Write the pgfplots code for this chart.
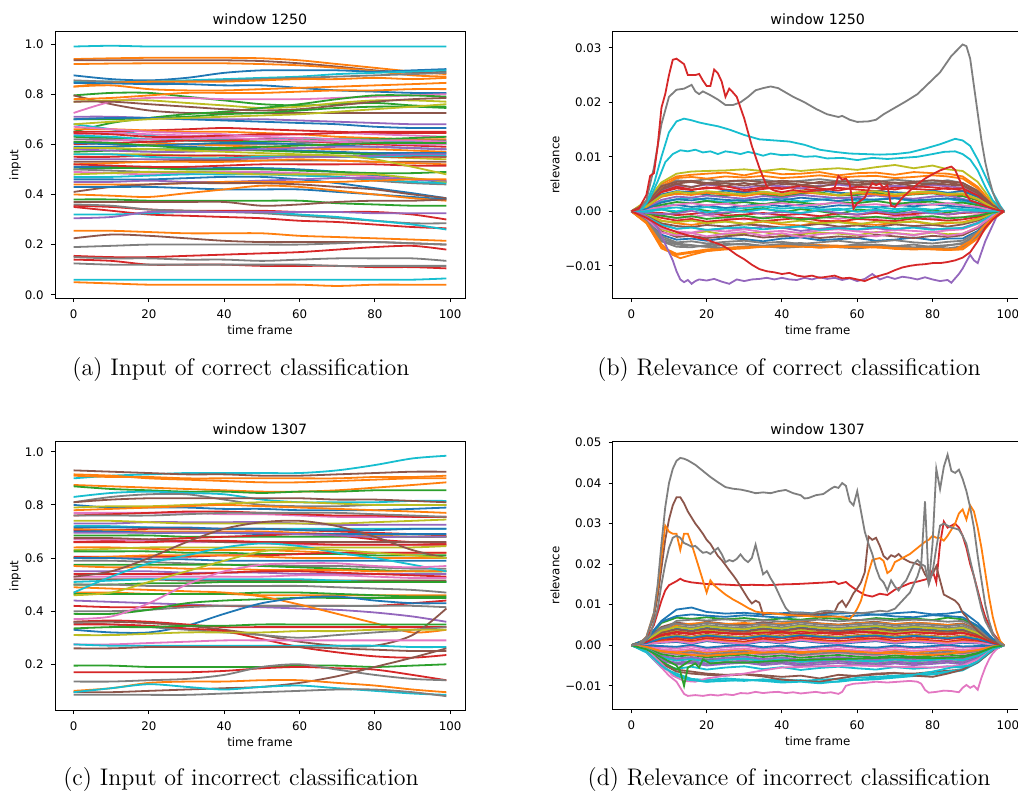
\documentclass[border=0pt]{standalone}
\usepackage{pgfplots}
\usepackage{pgfplotstable}
\pgfplotsset{compat=1.18}
\usepackage{fontspec}
\newfontfamily\dejavu{DejaVu Sans}

% matplotlib tab10
\definecolor{C0}{HTML}{1F77B4}
\definecolor{C1}{HTML}{FF7F0E}
\definecolor{C2}{HTML}{2CA02C}
\definecolor{C3}{HTML}{D62728}
\definecolor{C4}{HTML}{9467BD}
\definecolor{C5}{HTML}{8C564B}
\definecolor{C6}{HTML}{E377C2}
\definecolor{C7}{HTML}{7F7F7F}
\definecolor{C8}{HTML}{BCBD22}
\definecolor{C9}{HTML}{17BECF}

% one row per line: colour index (column -1), then y at each time frame
% inputs in units of 0.01
\pgfplotstableread[header=has colnames]{
-1 0 10 20 30 40 50 60 70 80 90 99
9 99 99.3 99 99 99 99 99 99 99 99 99
1 94 94.3 94.5 94.5 94.5 94.3 93.5 92 90.5 89 88
5 93.5 93.5 93.5 93.5 93.5 93.2 92.3 91 89.5 88.5 89
1 92 92.2 92.3 92.3 92.3 92 91.5 90.5 89.2 87.5 87
0 87.5 86 85.5 86.5 88.5 89.5 89.5 89.5 89 89.5 90
9 85 85 85 85.5 86 86.5 87 88 88.5 89 89.5
7 85.5 85 84.8 85 85.5 86 86.5 87 87.5 88 88.5
1 83 84.5 85 85 85 85.5 86 86 86.5 86 86.5
0 84.5 84.3 84 84 83.5 83.5 82.5 81.5 81 80.5 80.5
1 83 83.5 82 81.5 81.5 82 82.5 83 83.5 84 84.5
2 79.5 80.5 80.5 79 77.5 76 75.5 76 76.5 75.5 75
5 79.5 76 73.5 72.5 72.5 72.5 72.5 72.5 72.5 72.5 72.5
1 78 78.5 79.5 80.5 80.5 80.5 81 81.5 81.5 82 82
6 72.5 77 78.5 78.5 78 78 78 78.5 79 79.5 80
8 77 77.5 77.5 76.5 75.5 74.5 75 76.5 77.5 77.5 77
2 65 68.5 70.5 72 73 74.5 76 78 79.5 79.5 79
9 68 66 63.5 62.5 62 62 61.5 61 60.5 60 60
5 77 77 76 75 74 73.5 74 75.5 77 78 78.5
2 70 70 70.5 71 72 72.5 73.5 74.5 75 75 74.5
4 71 71 70.5 70 70 70 69.5 69 68.5 68 68
0 70 70.5 70.5 70 69.5 69 68.5 68 67 66.5 66.5
8 68 69 70 70.5 71 71.5 72 73 74 75 76
3 65 65 65.5 66 66.5 66 65.5 65 64.5 64.5 64.5
6 64 64.5 64 63.5 63 63.5 64 64.5 64 63.5 63
1 66 66 65.5 65 65 64.5 64 63 62.5 62 62
2 63 62.5 62 61.5 61 61 61.5 62 62 62.5 63
9 63.5 63 62 61.5 61.5 62 62.5 62 61.5 61 61
7 62 62 61 60 60 60 60.5 61 61.5 61.5 61.5
3 60 60.5 61 61.5 61.5 62 61.5 60.5 60 59.5 59
6 61 61.5 62 62.5 62.5 62 61.5 61 60.5 60 60
1 58 59 60 60 59.5 59 58.5 58 58 57.5 57
0 59 59 59.5 59 58.5 58 57.5 57 56.5 56.5 56.5
2 57 57.5 58 58 58 57.5 57 56.5 56 55.5 55
8 56 56 56 55.5 55.5 55.5 55.5 55.5 55 54.5 54
3 55 55 55.5 55.5 55.5 55 55 55 55 55 55
9 56 56 55 54.5 54.5 55 55 55 55 55.5 55.5
4 54 54 54 54 54 54.5 55 55 55.5 56 56
5 53 53 53 53.5 53.5 53.5 53.5 53.5 53 53 53
1 52 52.5 53 53 53 53.5 54 53.5 53 52.5 52
0 51 51 51 50.5 50.5 50.5 50 49 47.5 46 45
2 50 50.5 50.5 50 50 50 49.5 49 48.5 48.5 49
7 50 49.5 49 49 49 48.5 48 47 45.5 44.5 44
3 52 51.5 51 51 51.5 52 52 52 52 51.5 51.5
6 49 48.5 48 48.5 49 49 48.5 48 47 46 45.5
9 47 47 47.5 48 48 48 47.5 47 46 45 44.5
8 48 48.5 49 49 48.5 48 48 48 48 46.5 45
0 46 46 46 46.5 47 47 46 44.5 42.5 40.5 38.5
4 45 45 45.5 45 45 45.5 46 46.5 46.5 46 45.5
1 44 44 44 44.5 45 45 45 45 45.5 46 46
5 41 43 44 44.5 44.5 44.5 44 43 42 40 38.5
0 43 43 43 42.5 42 42 42 41 40 39 38
1 40 39.5 39 40.5 42 43.5 43 41.5 40 38.5 37.5
2 38 38 37.5 37.5 37.5 37.5 37.5 36.5 36 35.5 35.5
5 37 37 37 37 37 35.5 36 37 37.5 37.5 38
3 35.5 35 34 33.5 33.5 33.5 33 33 33 32 30
3 35 33.5 32 31.5 31 30.5 29.5 29 28 27 26.5
7 36 35.5 34 33.5 33 32.5 31.5 30.5 29.5 28.5 28.5
9 32 32 32.5 33 33 33 32 31 29.5 28 26
4 30.5 31 33 33 33 33 33 33 32.5 32.5 32.5
1 25.5 25.5 25 24.5 24.5 24.5 23.5 23 22.5 22 21.5
5 22.5 24 23.5 22.5 21.5 21 21 21 21 20.5 20
7 19 19.5 20 20 20 20 20 20.5 21 20.5 20
3 15.5 15 15 15.5 16 16.5 17 18 19 19.5 18
7 15 14.5 14.5 14 14 13.5 14 14.5 14.5 14.5 13.5
3 14 13.5 12 12 12 11.5 11.5 11.5 11 11 10.5
7 12.5 12 12 12 12 12 12 11.5 11.5 11.5 11.5
9 6 6 6 6 6 6 6 6 6 6 6.5
1 5 4.5 4 4 4 4 4 3.5 4 4 4
3 64.5 64 63 63 63.5 64 64 64.5 65 65 65
6 67 66 65 64.5 64 63 62.5 62 61.5 61.5 61
0 60.5 60 59.5 60 60.5 60.5 60 59.5 59 58.5 58
4 58 57.5 57 57 57.5 58 58.5 59 59 58.5 58
2 61 60.5 59.5 58.5 58.5 59 59.5 60 60.5 60.5 60.5
8 58.5 58.5 58 57.5 57 56.5 56 55.5 54 51 48
}\rawA

\pgfplotstableread[header=has colnames]{
-1 0 10 20 30 40 50 60 70 80 90 99
9 90 91 91.5 92 92 92 92 93 95 97.5 98.5
5 93 92.5 92 91.5 91.5 91 91 91.5 92 92.5 92.5
1 91.5 91 90 89.5 89 88.5 88.5 89 89.5 90 90
1 91 90.5 90.5 90 90 90 90 90 90.5 90.5 91
1 87.5 87 86.5 86 85.5 85 85 85.5 86.5 87.5 88.5
2 87 86 85.5 85 85 84.5 85 85 85.5 85.5 85.5
9 83 84.5 85 84.5 84 82 81 81 81 81.5 81.5
7 81 83 84 84 82 80 79.5 79.5 80 80 80
5 81 82 82.5 82.5 82.5 82.5 82.5 82 82 81.5 81
0 80 79 79 79 78.5 78.5 78 78 78 78.5 79
8 79 79.5 79.5 80 80.5 81 81 80.5 80 80 80
1 78 78.5 79 79.5 80 79.5 79 78.5 78 77.5 77
6 77 77 77 77 76.5 76.5 76 75.5 75.5 75.5 75.5
3 76 76.5 77 77.5 77.5 77 76.5 76 76 75.5 75.5
7 76 76 76 76.5 77 77 77 77 76.5 76 75.5
4 73 73 73.5 73.5 73.5 73.5 73 72.5 72.5 72.5 72.5
8 74 74 73.5 73 73 73 73 73 73.5 74 74.5
9 72 72 71.5 71 71 71 71 71 71 71 71
3 70.5 70.5 71 71 71 71 70.5 70 69.5 69 68.5
1 71 70.5 70 70 70 70 69.5 69 68.5 68 68
0 70 70 69.5 69.5 69.5 69 69 69 69 69 69
2 68.5 68.5 68.5 68 68 68 68 68 68 68 68
3 66 66.5 67 67.5 68 68.5 69 68.5 67 66 65.5
6 67 67 66.5 66 66 65.5 65 65 65 65 65
4 69.5 69.5 69.5 69.5 69.5 69.5 69 68.5 68 68 68
0 71.5 71.5 71.5 71.5 71 71 70.5 70.5 70.5 71 71
5 67.5 67.5 67 66.5 66 66 66 66 66 66 66
3 66 66 66 66.5 66.5 66 65.5 65 65 65 65
1 64 64 63.5 63 63 63 62.5 62 62 62 62
8 63 63.5 64 64 64 64 64 64 64 64 64.5
2 62.5 62.5 62.5 62 62 61.5 61.5 61.5 61 61 61
3 60.5 60.5 60.5 60.5 61 61 61.5 62 62 62 62
1 60 60.5 61 61 61 60.5 60 60 60 60 60
0 60 60 59.5 59.5 59 59 59 59 59 59 59
7 59 59 58.5 58 57.5 57.5 57 57 56.5 56 56
2 57.5 57.5 57.5 57.5 57.5 57 56.5 56 55.5 55 55
1 57 56.5 56.5 56 56 55.5 55.5 55.5 55 55 55
4 55 55 55 54.5 54.5 54.5 54 54 54 54 54
3 54 54 54 54 54.5 55 55 54.5 54 53.5 53
6 53 53 53 53 53 53 53.5 53.5 53 52.5 52.5
5 52 52 52 51.5 51.5 51.5 51.5 51.5 51.5 51.5 51.5
9 51 51.5 52 52 52 52 52 51.5 51 51 51
2 50 50 50.5 50.5 51 51 51 51 51 51 51
7 50 50 49.5 49.5 49.5 49.5 49.5 49 48.5 48 47
1 47 47 46.5 46.5 46.5 46 46 46 46 46 46
2 46.5 46.5 46.5 46.5 46.5 47 47 46.5 46 45.5 45.5
4 44 43.5 43 42.5 42 41.5 41 40.5 39.5 38 36
3 42 41.5 41.5 42 42 42 42 42 42 43 44
7 40 40 40.5 41.5 42 42 42 42 42 42 41.5
2 39 39 40.5 43 44 44.5 45 45 45 45 45
1 49 48.5 48 47.5 47 45.5 42.5 39 35.5 32 33
0 33 32 32 34.5 39 43 45 45.5 44 43 43
3 36 36.5 36 35 34 34 34 34 34 34 34
5 36 36 35.5 34.5 33 31 28.5 27 27 31 41
7 35.5 35 34 33 32 31 30 31 32 33 34
3 35 35 34.5 33.5 32.5 29.5 26.5 24.5 23 22.5 23.5
2 33.5 34 34 34.5 34.5 35 35 35 35 35 35
8 31 31 31.5 32 32 32 32.5 32.5 33 33 33
6 27.5 27.5 28 28.5 29 29 29 29 29 29 29
9 27.5 27 27 27 27 27 27 27 27 26.5 26.5
5 26 26 26.5 26.5 26.5 26.5 26.5 26 25.5 25 25
2 19.5 19.5 19 19 19 19 19.5 19.5 19 19.5 20
3 17 17 17 17 17.5 18.5 19 18.5 18 16 14
7 13.5 13.5 14 14.5 16 19 20 18 16 14.5 14
5 9.5 9.5 10 10.5 11 11.5 13 15.5 19 22.5 26
1 10 11 13 13.5 13.5 14 14 13 12 10.5 9.5
9 9.5 11 12.5 11.5 10.5 11.5 12 11 10 9 8.5
7 8.5 8.5 8.5 8.5 9 9.5 10 10.5 10.5 9.5 8
5 53 55 60 66 71 73.5 74 72 68 63 60
9 47 53 58 61 64 65.5 64.5 62 60 57.5 55
8 46 47 51 55 59 62.5 63.5 63 62 61 60
6 37 38 43 50 55 57.5 58 58 57 56.5 57
}\rawC

% relevance band, units of 0.001
\pgfplotstableread[header=has colnames]{
-1 0 4 8 12 16 20 25 30 35 40 45 50 55 60 65 70 75 80 84 88 92 96 99
0 0 0.3 0.9 1.2 0.8 1.1 0.6 1.0 1.4 0.9 1.2 0.7 1.1 1.0 0.6 1.2 0.9 1.3 1.0 0.8 0.6 0.2 0
1 0 -0.6 -1.7 -2.2 -2.5 -2.1 -1.8 -2.3 -1.9 -2.4 -2.6 -2.0 -1.7 -2.2 -2.5 -2.1 -1.9 -2.4 -2.2 -2.0 -1.3 -0.4 0
2 0 1.0 2.7 3.3 3.6 3.0 2.8 3.4 3.1 2.7 3.2 3.5 2.9 3.0 3.4 2.8 3.1 3.3 2.9 2.8 2.0 0.6 0
3 0 1.3 3.5 4.2 3.9 4.4 4.0 3.6 4.1 4.5 4.2 3.8 4.3 4.0 3.7 4.4 4.1 3.9 4.3 3.8 2.7 0.8 0
4 0 -0.8 -2.4 -3.2 -2.9 -3.5 -3.1 -3.3 -2.8 -3.0 -3.6 -3.2 -2.9 -3.4 -3.1 -3.5 -2.8 -3.2 -3.3 -3.0 -2.1 -0.6 0
5 0 1.6 4.3 5.1 5.4 4.9 5.2 4.7 5.3 5.0 4.8 5.4 5.1 4.9 5.3 4.7 5.2 5.0 5.3 4.8 3.4 1.0 0
6 0 -0.2 -0.8 -1.3 -1.0 -0.7 -1.2 -1.5 -1.1 -0.8 -1.3 -1.0 -1.4 -0.9 -1.2 -1.0 -0.7 -1.3 -1.1 -1.1 -0.6 -0.2 0
7 0 -2.0 -5.4 -6.1 -6.3 -6.5 -6.2 -5.9 -6.4 -6.1 -5.8 -6.3 -6.5 -6.0 -6.2 -6.4 -6.1 -6.6 -6.3 -5.8 -4.1 -1.2 0
8 0 -1.1 -3.3 -4.2 -4.0 -3.7 -4.3 -4.1 -3.8 -4.4 -4.2 -3.9 -4.1 -4.4 -3.8 -4.0 -4.3 -3.9 -4.2 -4.1 -2.9 -0.8 0
9 0 0.7 1.8 2.2 2.5 2.0 1.7 2.3 2.0 2.4 1.8 2.1 2.5 1.9 2.2 2.4 1.8 2.1 2.3 1.8 1.3 0.4 0
0 0 -1.6 -4.3 -5.2 -5.0 -5.4 -4.9 -5.1 -5.5 -5.0 -4.8 -5.3 -5.1 -4.9 -5.4 -5.2 -4.8 -5.3 -5.0 -5.0 -3.6 -1.0 0
1 0 1.6 5.0 6.4 6.7 6.9 7.1 6.6 7.3 6.8 6.9 7.2 6.6 7.0 7.1 6.7 7.2 7.0 6.9 6.4 4.5 1.3 0
2 0 0.1 0.4 -0.3 0.5 0.1 -0.4 0.2 0.6 -0.2 0.4 0.0 -0.5 0.3 0.1 -0.3 0.4 0.2 -0.2 0.3 0.2 0.0 0
3 0 -0.5 -1.2 -1.7 -1.4 -1.9 -1.6 -1.3 -1.8 -1.5 -1.2 -1.7 -1.9 -1.4 -1.6 -1.8 -1.3 -1.5 -1.7 -1.5 -1.0 -0.3 0
4 0 0.7 2.1 2.7 2.5 2.9 2.6 2.3 2.8 2.5 3.0 2.7 2.4 2.6 2.9 2.5 2.3 2.7 2.9 2.3 1.6 0.5 0
5 0 -0.8 -2.2 -2.7 -2.9 -2.5 -2.8 -2.4 -2.6 -3.0 -2.7 -2.3 -2.8 -2.6 -2.9 -2.4 -2.7 -2.5 -2.8 -2.4 -1.7 -0.5 0
6 0 -1.1 -3.1 -3.7 -3.9 -3.4 -3.7 -3.3 -3.8 -3.6 -4.0 -3.5 -3.3 -3.7 -3.9 -3.4 -3.6 -3.8 -3.5 -3.3 -2.3 -0.7 0
7 0 1.7 4.7 5.7 5.5 5.9 5.4 5.6 5.8 5.3 5.6 5.9 5.5 5.7 5.4 5.8 5.5 5.3 5.7 5.2 3.8 1.1 0
8 0 1.9 5.3 6.9 7.3 7.4 7.5 7.7 7.4 7.8 7.4 7.7 7.9 7.6 8.1 8.5 7.9 8.4 7.7 7.4 5.4 1.6 0
9 0 0.2 0.5 0.7 0.4 0.8 0.3 0.6 0.9 0.5 0.7 0.4 0.2 0.7 0.8 0.4 0.6 0.3 0.7 0.4 0.3 0.1 0
0 0 1.1 3.1 3.7 3.5 3.2 3.8 3.4 3.6 3.1 3.5 3.9 3.4 3.2 3.7 3.5 3.3 3.8 3.4 3.7 2.6 0.7 0
1 0 -2.2 -6.5 -7.8 -7.4 -7.0 -6.7 -6.5 -6.4 -6.6 -6.3 -6.7 -6.4 -6.8 -6.5 -6.9 -7.0 -6.9 -7.1 -6.7 -4.7 -1.4 0
2 0 0.5 1.2 1.7 1.5 1.9 1.4 1.7 1.3 1.8 1.6 1.2 1.7 1.5 1.9 1.4 1.6 1.8 1.4 1.6 1.1 0.3 0
3 0 -0.2 -0.3 -0.7 -0.5 -0.2 -0.8 -0.6 -0.3 -0.7 -0.5 -0.9 -0.4 -0.6 -0.3 -0.7 -0.5 -0.2 -0.6 -0.3 -0.2 -0.1 0
4 0 1.4 3.9 4.7 4.5 4.9 4.6 4.3 4.8 4.6 4.2 4.7 4.9 4.5 4.3 4.7 4.4 4.8 4.6 4.3 3.0 0.9 0
5 0 -1.4 -3.7 -4.7 -4.5 -4.9 -4.6 -4.3 -4.8 -4.6 -4.4 -4.9 -4.6 -4.8 -4.3 -4.6 -4.9 -4.5 -4.7 -4.4 -3.1 -0.9 0
6 0 0.4 0.8 1.2 1.5 1.1 1.4 0.9 1.2 1.5 1.0 1.3 1.6 1.1 1.3 0.9 1.4 1.2 1.5 1.1 0.8 0.2 0
7 0 -1.7 -4.6 -5.7 -5.5 -5.9 -5.6 -5.4 -5.8 -5.6 -6.0 -5.7 -5.4 -5.8 -5.6 -5.3 -5.7 -5.9 -5.6 -5.4 -3.8 -1.1 0
8 0 -0.5 -1.8 -2.0 -1.7 -2.2 -1.9 -2.3 -1.8 -2.1 -1.7 -2.2 -2.0 -2.4 -1.9 -2.1 -1.8 -2.3 -2.0 -2.1 -1.5 -0.4 0
9 0 -1.0 -2.5 -3.2 -3.0 -3.4 -3.1 -2.9 -3.3 -3.0 -2.8 -3.4 -3.1 -3.3 -2.9 -3.2 -3.0 -3.4 -3.1 -3.1 -2.2 -0.6 0
0 0 0.5 1.6 2.2 2.0 2.4 2.1 1.9 2.3 2.0 2.5 2.2 1.9 2.3 2.1 2.4 2.0 2.2 2.4 2.1 1.5 0.4 0
1 0 0.8 2.7 3.2 3.0 3.4 3.1 2.8 3.3 3.0 3.5 3.2 2.9 3.3 3.1 2.8 3.2 3.4 3.0 3.1 2.2 0.6 0
2 0 -0.4 -0.8 -1.2 -0.9 -1.4 -1.1 -0.8 -1.3 -1.0 -1.5 -1.2 -0.9 -1.3 -1.0 -1.4 -1.1 -0.9 -1.3 -1.1 -0.8 -0.2 0
3 0 1.2 3.6 4.5 4.0 4.2 4.6 3.9 4.4 4.1 4.7 4.2 3.8 4.5 4.3 4.0 4.6 4.4 4.1 4.2 2.9 0.8 0
4 0 -0.3 -0.5 -0.4 0.1 -0.6 -0.2 0.0 -0.5 -0.1 -0.4 0.2 -0.3 -0.6 0.0 -0.5 -0.1 -0.4 -0.6 -0.2 -0.1 0.0 0
5 0 1.3 4.0 5.0 4.4 5.1 4.7 5.2 4.6 5.3 4.9 4.5 5.2 4.8 5.0 5.3 4.6 5.1 4.9 4.7 3.3 0.9 0
6 0 -1.3 -3.9 -4.4 -4.0 -4.6 -4.1 -3.8 -4.5 -4.0 -4.7 -4.2 -3.9 -4.3 -4.6 -4.0 -4.4 -3.8 -4.5 -4.1 -2.9 -0.8 0
7 0 -1.8 -5.0 -5.9 -6.2 -6.5 -6.8 -6.6 -6.4 -6.7 -6.5 -6.2 -6.6 -6.8 -6.4 -6.7 -6.9 -6.6 -6.8 -6.4 -4.5 -1.3 0
8 0 0.9 2.9 3.6 3.3 3.7 3.4 3.1 3.6 3.2 3.8 3.3 3.0 3.5 3.7 3.1 3.5 3.6 3.2 3.3 2.3 0.7 0
9 0 -0.1 0.3 0.0 0.5 -0.2 0.3 -0.1 0.4 0.1 -0.3 0.2 0.5 -0.1 0.3 0.0 0.4 -0.2 0.1 0.2 0.1 0.0 0
1 0 -2.1 -6.8 -8.0 -7.6 -7.3 -7.0 -6.8 -6.5 -6.4 -6.3 -6.2 -6.3 -6.4 -6.5 -6.6 -6.8 -7.0 -7.1 -7.0 -5.0 -1.5 0
1 0 1.5 4.5 6.1 6.3 6.0 6.4 6.2 6.5 6.1 6.3 6.6 6.2 6.4 6.5 6.1 6.3 6.6 6.4 6.0 4.2 1.2 0
7 0 -1.9 -5.5 -6.5 -6.6 -6.2 -6.0 -6.1 -6.3 -6.0 -6.2 -6.4 -6.5 -6.3 -6.1 -6.4 -6.6 -6.4 -6.2 -6.0 -4.2 -1.2 0
5 0 1.4 4.6 5.4 5.6 5.2 5.5 5.7 5.3 5.6 5.4 5.1 5.5 5.3 5.6 5.2 5.4 5.7 5.5 5.2 3.7 1.1 0
}\rawB

\pgfplotstableread[header=has colnames]{
-1 0 4 8 12 16 20 25 30 35 40 45 50 55 60 65 70 75 80 84 88 92 96 99
0 0 1.5 6.0 8.8 9.3 8.2 7.8 8.0 7.6 7.9 8.1 7.7 7.8 8.0 7.5 7.9 8.2 7.6 7.8 8.3 5.5 1.6 0
1 0 0.5 1.4 1.8 1.5 2.1 1.6 1.9 1.4 2.0 1.7 1.5 2.1 1.8 1.6 2.0 1.4 1.9 1.7 1.6 1.1 0.3 0
2 0 1.4 5.5 6.8 6.5 6.9 6.4 6.7 6.2 6.6 6.3 6.8 6.5 6.1 6.7 6.4 6.6 6.2 6.8 6.4 4.5 1.3 0
3 0 0.8 2.4 3.1 2.7 3.3 2.9 2.6 3.2 2.8 3.4 3.0 2.7 3.1 3.3 2.8 3.2 2.9 2.6 3.0 2.1 0.6 0
4 0 -0.9 -2.6 -3.3 -2.9 -3.5 -3.1 -2.8 -3.4 -3.0 -3.6 -3.2 -2.9 -3.3 -3.5 -3.0 -3.4 -3.1 -2.8 -3.2 -2.2 -0.6 0
5 0 -1.3 -4.5 -6.0 -6.5 -7.0 -7.3 -7.1 -7.4 -7.8 -7.5 -8.2 -7.3 -7.6 -7.2 -6.9 -7.0 -6.6 -6.3 -6.0 -4.2 -1.2 0
6 0 -0.6 -1.8 -2.3 -1.9 -2.5 -2.1 -1.8 -2.4 -2.0 -2.6 -2.2 -1.9 -2.3 -2.5 -2.0 -2.4 -2.1 -1.8 -2.2 -1.5 -0.4 0
7 0 1.2 3.9 4.8 4.3 5.0 4.5 4.2 4.9 4.4 5.1 4.6 4.3 4.7 5.0 4.4 4.8 4.5 4.2 4.6 3.2 0.9 0
8 0 0.3 0.9 1.2 0.7 1.4 0.9 0.6 1.3 0.8 1.5 1.0 0.7 1.1 1.4 0.8 1.2 0.9 0.6 1.0 0.7 0.2 0
9 0 -1.5 -5.0 -7.5 -8.5 -9.0 -8.6 -8.8 -8.4 -8.9 -8.6 -9.1 -9.0 -8.5 -8.2 -7.8 -7.5 -7.0 -6.5 -6.0 -4.2 -1.2 0
0 0 1.0 3.2 4.1 3.6 4.3 3.8 3.5 4.2 3.7 4.4 3.9 3.6 4.0 4.3 3.7 4.1 3.8 3.5 3.9 2.7 0.8 0
1 0 -0.4 -1.3 -1.7 -1.3 -1.9 -1.5 -1.2 -1.8 -1.4 -2.0 -1.6 -1.3 -1.7 -1.9 -1.4 -1.8 -1.5 -1.2 -1.6 -1.1 -0.3 0
2 0 -0.5 -3.8 -4.5 -4.2 -4.6 -4.3 -4.0 -4.5 -4.1 -4.7 -4.2 -3.9 -4.4 -4.6 -4.1 -4.5 -4.2 -3.9 -4.3 -3.0 -0.9 0
3 0 0.7 2.0 2.6 2.1 2.8 2.3 2.0 2.7 2.2 2.9 2.4 2.1 2.5 2.8 2.2 2.6 2.3 2.0 2.4 1.7 0.5 0
4 0 -1.1 -3.5 -4.3 -3.9 -4.5 -4.1 -3.8 -4.4 -4.0 -4.6 -4.2 -3.9 -4.3 -4.5 -4.0 -4.4 -4.1 -3.8 -4.2 -2.9 -0.8 0
5 0 1.4 4.5 5.6 5.1 5.8 5.3 5.0 5.7 5.2 5.9 5.4 5.1 5.5 5.8 5.2 5.6 5.3 5.0 5.4 3.8 1.1 0
6 0 -0.2 -0.5 -0.8 -0.3 -1.0 -0.5 -0.2 -0.9 -0.4 -1.1 -0.6 -0.3 -0.7 -1.0 -0.4 -0.8 -0.5 -0.2 -0.6 -0.4 -0.1 0
7 0 1.1 3.4 6.0 6.3 6.1 6.4 6.0 6.2 5.8 6.1 6.3 5.9 6.2 6.4 6.0 6.3 6.1 5.8 6.0 4.2 1.2 0
8 0 0.9 2.8 3.5 3.0 3.7 3.2 2.9 3.6 3.1 3.8 3.3 3.0 3.4 3.7 3.1 3.5 3.2 2.9 3.3 2.3 0.7 0
9 0 -1.4 -4.6 -5.8 -5.3 -6.0 -5.5 -5.2 -5.9 -5.4 -6.1 -5.6 -5.3 -5.7 -6.0 -5.4 -5.8 -5.5 -5.2 -5.6 -3.9 -1.1 0
0 0 0.2 0.6 0.8 0.3 1.0 0.5 0.2 0.9 0.4 1.1 0.6 0.3 0.7 1.0 0.4 0.8 0.5 0.2 0.6 0.4 0.1 0
1 0 0.9 2.9 5.0 5.3 5.6 5.2 5.5 5.1 5.4 5.7 5.3 5.0 5.4 5.6 5.2 5.5 5.3 5.0 5.2 3.6 1.0 0
2 0 -0.7 -2.2 -2.8 -2.4 -3.0 -2.6 -2.3 -2.9 -2.5 -3.1 -2.7 -2.4 -2.8 -3.0 -2.5 -2.9 -2.6 -2.3 -2.7 -1.9 -0.5 0
3 0 0.4 1.1 1.5 1.0 1.7 1.2 0.9 1.6 1.1 1.8 1.3 1.0 1.4 1.7 1.1 1.5 1.2 0.9 1.3 0.9 0.3 0
4 0 -1.2 -3.8 -4.8 -4.4 -5.0 -4.6 -4.3 -4.9 -4.5 -5.1 -4.7 -4.4 -4.8 -5.0 -4.5 -4.9 -4.6 -4.3 -4.7 -3.3 -0.9 0
5 0 1.0 3.1 3.9 3.4 4.1 3.6 3.3 4.0 3.5 4.2 3.7 3.4 3.8 4.1 3.5 3.9 3.6 3.3 3.7 2.6 0.7 0
6 0 -0.3 -1.0 -1.3 -0.9 -1.5 -1.1 -0.8 -1.4 -1.0 -1.6 -1.2 -0.9 -1.3 -1.5 -1.0 -1.4 -1.1 -0.8 -1.2 -0.8 -0.2 0
7 0 1.3 4.2 5.3 4.8 5.5 5.0 4.7 5.4 4.9 5.6 5.1 4.8 5.2 5.5 4.9 5.3 5.0 4.7 5.1 3.6 1.0 0
8 0 0.6 1.9 2.4 2.0 2.6 2.2 1.9 2.5 2.1 2.7 2.3 2.0 2.4 2.6 2.1 2.5 2.2 1.9 2.3 1.6 0.5 0
9 0 -1.8 -5.5 -7.0 -8.3 -8.6 -8.2 -8.5 -8.7 -8.4 -8.8 -8.5 -8.3 -8.6 -8.4 -8.0 -7.6 -7.2 -6.8 -6.2 -4.3 -1.2 0
0 0 -0.1 -0.2 -0.4 0.1 -0.6 -0.2 0.1 -0.5 -0.1 -0.7 -0.3 0.0 -0.4 -0.6 -0.1 -0.5 -0.2 0.1 -0.3 -0.2 -0.1 0
1 0 0.3 0.9 1.1 0.7 1.3 0.9 0.6 1.2 0.8 1.4 1.0 0.7 1.1 1.3 0.8 1.2 0.9 0.6 1.0 0.7 0.2 0
2 0 -1.0 -4.0 -6.0 -3.5 -3.8 -3.6 -3.3 -3.9 -3.5 -4.1 -3.7 -3.4 -3.8 -4.0 -3.5 -3.9 -3.6 -3.3 -3.7 -2.6 -0.7 0
3 0 0.5 1.5 2.0 1.6 2.2 1.8 1.5 2.1 1.7 2.3 1.9 1.6 2.0 2.2 1.7 2.1 1.8 1.5 1.9 1.3 0.4 0
4 0 -0.8 -2.9 -3.7 -3.3 -3.9 -3.5 -3.2 -3.8 -3.4 -4.0 -3.6 -3.3 -3.7 -3.9 -3.4 -3.8 -3.5 -3.2 -3.6 -2.5 -0.7 0
5 0 -1.3 -4.5 -6.5 -7.0 -7.3 -7.5 -7.2 -7.7 -8.5 -8.8 -9.0 -8.2 -7.5 -7.0 -6.8 -7.5 -7.8 -7.0 -6.0 -4.2 -1.2 0
6 0 0.3 0.7 1.0 0.5 1.2 0.7 0.4 1.1 0.6 1.3 0.8 0.5 0.9 1.2 0.6 1.0 0.7 0.4 0.8 0.6 0.2 0
7 0 -0.5 -1.6 -2.1 -1.7 -2.3 -1.9 -1.6 -2.2 -1.8 -2.4 -2.0 -1.7 -2.1 -2.3 -1.8 -2.2 -1.9 -1.6 -2.0 -1.4 -0.4 0
8 0 1.1 3.6 4.5 4.0 4.7 4.2 3.9 4.6 4.1 4.8 4.3 4.0 4.4 4.7 4.1 4.5 4.2 3.9 4.3 3.0 0.9 0
9 0 -0.9 -3.0 -3.8 -3.4 -4.0 -3.6 -3.3 -3.9 -3.5 -4.1 -3.7 -3.4 -3.8 -4.0 -3.5 -3.9 -3.6 -3.3 -3.7 -2.6 -0.7 0
0 0 0.5 1.7 2.2 1.8 2.4 2.0 1.7 2.3 1.9 2.5 2.1 1.8 2.2 2.4 1.9 2.3 2.0 1.7 2.1 1.5 0.4 0
3 0 0.8 2.6 3.3 2.9 3.4 3.0 2.9 3.1 3.3 2.9 3.2 3.0 3.4 3.1 2.8 3.2 3.0 2.9 3.1 2.2 0.6 0
1 0 -0.4 -1.5 -1.9 -2.4 -2.6 -2.3 -2.0 -1.8 -1.6 -1.7 -1.5 -1.4 -1.6 -1.9 -2.0 -2.2 -2.4 -2.1 -1.7 -1.2 -0.3 0
0 0 1.3 5.8 7.2 7.6 7.3 7.0 7.4 7.1 6.8 7.2 7.5 7.0 7.3 7.6 7.1 6.9 7.4 7.2 6.9 4.8 1.4 0
}\rawD

\pgfplotstabletranspose{\tabA}{\rawA}
\pgfplotstabletranspose{\tabB}{\rawB}
\pgfplotstabletranspose{\tabC}{\rawC}
\pgfplotstabletranspose{\tabD}{\rawD}

% draw every row of #1 (its transposed copy is #2), coloured by column -1
\newcommand\drawrows[2]{%
  \pgfplotstablegetrowsof{#1}%
  \pgfmathtruncatemacro\nrows{\pgfplotsretval}%
  \foreach \i in {1,...,\nrows}{%
    \pgfmathtruncatemacro\r{\i-1}%
    \pgfplotstablegetelem{\r}{[index]0}\of{#1}%
    \edef\tmp{\noexpand\addplot[color=C\pgfplotsretval] table[x index=0,y index=\i] {\noexpand#2};}%
    \tmp
  }%
}

\pgfplotsset{
  mpl/.style={
    scale only axis, width=205pt, height=133pt,
    xmin=-4.95, xmax=103.95,
    restrict x to domain=-0.5:100,
    axis line style={line width=0.48pt},
    tick align=outside, tick pos=left,
    major tick length=2.1pt,
    tick style={black, line width=0.48pt},
    tick label style={font=\dejavu\fontsize{5.9}{7}\selectfont},
    xtick={0,20,40,60,80,100}, xticklabels={0,20,40,60,80,100},
    xlabel={time frame},
    every axis x label/.style={at={(axis description cs:0.5,-0.12)}, anchor=center, font=\dejavu\fontsize{5.9}{7}\selectfont},
    every axis title/.style={at={(axis description cs:0.5,1.047)}, anchor=center, font=\dejavu\fontsize{7.1}{8.5}\selectfont},
    every axis plot/.append style={line width=0.9pt, mark=none},
  },
  ylab/.style={every axis y label/.style={at={(axis description cs:#1,0.5)}, rotate=90, anchor=center, font=\dejavu\fontsize{5.9}{7}\selectfont}},
}

\begin{document}
\begin{tikzpicture}
\path[use as bounding box] (0,0) rectangle (509pt,397.5pt);

% (a)
\begin{axis}[mpl, at={(27.5pt,248.5pt)}, anchor=south west,
  ymin=-1.3, ymax=104.8, ytick={0,20,40,60,80,100}, yticklabels={0.0,0.2,0.4,0.6,0.8,1.0},
  ylabel={input}, ylab=-0.097, title={window 1250},
  every axis plot/.append style={smooth}]
\drawrows{\rawA}{\tabA}
\end{axis}

% (b)
\begin{axis}[mpl, at={(306.35pt,248.5pt)}, anchor=south west,
  ymin=-15.9, ymax=32.9, ytick={-10,0,10,20,30}, yticklabels={−0.01,0.00,0.01,0.02,0.03},
  ylabel={relevance}, ylab=-0.141, title={window 1250}]
\drawrows{\rawB}{\tabB}
\addplot[C1] coordinates {(0,0) (4,-2) (8,-6) (11,-8) (13,-8.6) (16,-8) (20,-7.3) (25,-6.8) (30,-6.6) (40,-6.4) (50,-6.6) (60,-6.5) (70,-6.8) (80,-6.9) (86,-7) (90,-5.5) (94,-2.5) (97,-0.6) (99,0)};
\addplot[C4] coordinates {(0,0) (3,-0.5) (5,-1.5) (7,-3) (9,-6) (11,-9) (12,-11) (13,-12.5) (14,-13) (15,-12.6) (16,-13.3) (17,-12.8) (18,-12.5) (20,-12.7) (22,-12.4) (24,-12.9) (26,-13.3) (28,-12.5) (30,-12.8) (32,-12.5) (34,-12.4) (36,-12.2) (38,-12.5) (40,-12.2) (42,-12.5) (44,-12.6) (46,-12.2) (48,-12.5) (50,-12.1) (52,-12.4) (54,-12.2) (56,-12.6) (58,-12.3) (60,-12.8) (62,-12.4) (64,-11.5) (66,-12.5) (68,-12) (70,-12.4) (72,-12) (74,-12.2) (76,-12.5) (78,-12.1) (80,-12.5) (82,-12.8) (84,-12.6) (85,-13.1) (86,-12.3) (87,-11.5) (88,-10.5) (89,-9.2) (90,-8) (91,-9) (92,-9.5) (93,-7.5) (94,-5.5) (95,-4) (96,-2.5) (97,-1) (98,-0.3) (99,0)};
\addplot[C3] coordinates {(0,0) (4,-1.2) (8,-2.8) (12,-3.8) (16,-4.6) (20,-5.2) (22,-5.7) (24,-6.2) (26,-7) (28,-8) (30,-8.8) (32,-9.8) (34,-10.6) (36,-11) (38,-11.2) (40,-11.5) (42,-11.3) (44,-11.8) (46,-12) (48,-11.8) (50,-12.2) (52,-12) (54,-11.8) (56,-12.3) (58,-12.2) (60,-12.5) (62,-12.8) (64,-12.2) (66,-11.8) (68,-11.4) (70,-10.8) (72,-10.3) (74,-10) (76,-9.8) (78,-9.7) (80,-9.5) (82,-9.5) (84,-9.3) (86,-9) (88,-8.5) (90,-7.5) (92,-5.5) (94,-3) (96,-1.5) (98,-0.4) (99,0)};
\addplot[C9] coordinates {(0,0) (3,0.5) (5,2.5) (7,5.5) (9,9) (11,10.5) (13,11.2) (15,11) (17,11.3) (19,10.8) (21,11) (23,10.5) (25,11) (27,10.8) (29,10.5) (31,10.9) (33,10.6) (35,10.2) (37,10.6) (40,10.3) (43,10.4) (46,10) (49,10.1) (52,9.7) (56,9.8) (60,9.4) (64,9.8) (68,9.6) (72,9.8) (76,10) (80,10.5) (83,10.9) (86,11) (88,10.5) (90,9.5) (92,7.5) (94,4.5) (96,2) (98,0.5) (99,0)};
\addplot[C9] coordinates {(0,0) (2,0.3) (4,1.5) (6,5) (8,10) (10,14.5) (12,16.5) (14,17) (16,16.7) (18,16.3) (20,16) (23,15.6) (26,15) (30,14) (34,13.2) (38,13) (42,12.8) (46,12.2) (50,11.3) (54,10.9) (58,10.6) (62,10.5) (66,10.4) (70,10.5) (74,10.8) (78,11.5) (82,12.3) (86,13.3) (88,13) (90,12) (92,9.5) (94,6.5) (96,3.5) (98,1) (99,0)};
\addplot[C7] coordinates {(0,0) (2,0.3) (4,2) (6,8) (8,16) (10,21) (12,22.3) (14,22.5) (16,23.2) (17,22) (18,21.5) (19,22) (21,21.3) (23,20.5) (25,19.5) (27,19.5) (29,20) (31,21) (33,22.2) (35,22.6) (37,22.9) (39,22.6) (41,21.8) (43,21) (46,20) (49,18.8) (52,17.8) (55,17.3) (56,17.5) (58,16.8) (60,16.4) (63,16.5) (65,16.8) (67,17.8) (70,19) (73,20.2) (76,21.5) (79,23.5) (82,25.5) (85,28.5) (88,30.6) (89,30.3) (90,28) (91,23) (92,18) (93,13) (94,9) (95,6) (96,3.5) (97,1.8) (98,0.7) (99,0)};
\addplot[C3] coordinates {(0,0) (2,0.5) (4,3) (5,6.5) (6,7) (7,12) (8,19) (9,21.5) (10,25) (11,27.8) (12,28) (13,27.5) (14,27) (15,25) (17,25) (18,25.2) (19,24) (20,23) (21,23) (22,26) (23,25.3) (24,23.8) (25,21) (26,22.5) (27,21.8) (28,21) (30,17) (32,12) (34,8) (36,4.5) (38,3.8) (40,3.5) (43,3.9) (46,3.6) (49,3.8) (52,4) (54,4.3) (55,6.5) (56,5.8) (57,6) (58,5) (59,0.5) (60,1.5) (62,2.5) (63,4) (64,5.2) (65,4.8) (66,5.1) (67,4.3) (68,4.8) (69,1) (70,0.8) (72,2.5) (74,3.8) (76,5) (78,6) (80,6.8) (82,7.5) (84,8) (85,8.2) (86,7.6) (87,6) (88,4.5) (89,3) (90,2) (92,1.5) (94,1) (96,0.5) (98,0.1) (99,0)};
\end{axis}

% (c)
\begin{axis}[mpl, at={(27.5pt,42.5pt)}, anchor=south west, height=134.15pt,
  ymin=2.8, ymax=103.8, ytick={20,40,60,80,100}, yticklabels={0.2,0.4,0.6,0.8,1.0},
  ylabel={input}, ylab=-0.097, title={window 1307},
  every axis title/.append style={at={(axis description cs:0.5,1.045)}},
  every axis plot/.append style={smooth}]
\drawrows{\rawC}{\tabC}
\end{axis}

% (d)
\begin{axis}[mpl, at={(306.35pt,42.85pt)}, anchor=south west, height=133.8pt,
  ymin=-15.8, ymax=50.2, ytick={-10,0,10,20,30,40,50}, yticklabels={−0.01,0.00,0.01,0.02,0.03,0.04,0.05},
  ylabel={relevance}, ylab=-0.141, title={window 1307},
  every axis title/.append style={at={(axis description cs:0.5,1.045)}}]
\drawrows{\rawD}{\tabD}
\addplot[C6] coordinates {(0,0) (2,-0.3) (4,-1.5) (6,-3.5) (8,-5.5) (10,-7.5) (12,-9) (13,-10.5) (14,-12) (15,-12.5) (17,-12.3) (19,-12.5) (21,-12.2) (23,-12.4) (25,-12.1) (27,-12.3) (29,-11.8) (31,-11.9) (33,-11.5) (35,-11.8) (37,-11.6) (39,-11.5) (41,-11.8) (43,-11.6) (45,-11.9) (47,-11.7) (49,-11.5) (51,-11.8) (53,-11.6) (55,-12) (56,-11.5) (57,-10) (59,-9.5) (62,-9.3) (65,-9) (68,-9.2) (71,-9) (74,-8.8) (76,-9) (77,-9.5) (78,-11) (79,-11.7) (81,-11.5) (83,-11.2) (85,-11.3) (87,-11.6) (88,-10.5) (89,-9.8) (90,-10.5) (91,-10) (92,-11) (93,-8) (94,-5.5) (95,-3.5) (96,-2) (97,-1) (98,-0.3) (99,0)};
\addplot[C6] coordinates {(0,0) (4,-1) (8,-4.5) (11,-7.5) (14,-8.8) (17,-9) (20,-8.2) (25,-7.5) (30,-7) (35,-6.2) (40,-5.5) (50,-5.2) (60,-5) (70,-5.3) (80,-5.5) (88,-5) (92,-3.5) (96,-1) (99,0)};
\addplot[C9] coordinates {(0,0) (4,-1.5) (8,-5) (12,-7.5) (15,-8.5) (20,-9) (25,-8.8) (30,-8.5) (35,-8.8) (40,-9.2) (45,-9) (50,-9.4) (55,-8.9) (60,-8) (65,-7.8) (70,-7.5) (75,-7.3) (80,-6.5) (85,-5.5) (90,-5) (92,-4) (96,-1) (99,0)};
\addplot[C2] coordinates {(0,0) (4,-1) (8,-3) (10,-4) (12,-5) (13,-6.5) (14,-10) (15,-5.5) (17,-4.5) (18,-5.5) (19,-3.5) (21,-4.5) (25,-4.2) (30,-4.3) (40,-3.8) (50,-3.5) (60,-3.3) (70,-3) (80,-3.2) (88,-3) (92,-2) (96,-0.5) (99,0)};
\addplot[C3] coordinates {(0,0) (2,0.3) (4,1.5) (6,5) (8,11) (9,13.5) (10,14.8) (12,15.8) (13,16.4) (14,15.9) (16,15.5) (18,15.3) (20,15.1) (24,15) (28,14.8) (32,14.9) (36,14.8) (40,15) (44,15.1) (48,15.3) (52,15.5) (54,15.7) (55,15.1) (57,15.6) (58,14.8) (60,13.5) (62,12.4) (64,12) (66,12.7) (68,12.4) (70,13.7) (72,14.5) (74,15.3) (76,15.7) (78,16.2) (79,16.5) (80,18.5) (81,15.5) (82,25) (83,30.5) (84,29) (85,29.5) (86,30) (87,29) (88,27) (89,24) (90,20) (91,17) (92,13.5) (93,10) (94,7) (96,3) (98,0.7) (99,0)};
\addplot[C5] coordinates {(0,0) (2,0.3) (4,2) (6,7) (7,12) (8,19) (9,26) (10,31) (11,34.5) (12,36.5) (13,36.5) (14,35) (15,33) (16,31.5) (17,30) (18,28.8) (19,27.5) (20,26) (21,25) (22,23.5) (23,22) (24,21) (25,19.8) (26,18.5) (27,17.3) (28,16) (29,14.5) (30,13) (31,11.5) (32,10.3) (33,11) (34,10.5) (35,7.5) (36,8) (40,7.7) (45,7.5) (50,7.8) (54,8.3) (55,10.2) (56,11) (57,9.5) (58,11) (59,12.8) (60,14) (61,15.5) (62,18) (63,26.8) (64,26) (65,26.5) (66,24.5) (67,22) (68,21.2) (69,22.2) (70,21.8) (71,22.5) (72,21.5) (73,21) (74,20.5) (75,20.3) (76,20) (77,19.5) (78,17.5) (79,16.2) (80,17.5) (81,19.5) (82,16) (83,12.5) (84,12) (85,11.5) (86,11) (87,10) (88,8) (89,7) (90,5.5) (92,3.5) (94,2) (96,1) (98,0.3) (99,0)};
\addplot[C1] coordinates {(0,0) (2,0.3) (4,2) (6,8) (7,14) (8,22) (9,29.5) (10,28) (11,27.5) (12,27.5) (13,23.5) (14,27.5) (15,27.5) (16,25) (17,22) (18,19) (19,16) (20,13) (21,16) (22,14.8) (23,14) (25,12.5) (27,11.3) (29,10.3) (31,9.2) (33,8.3) (35,8) (38,7.8) (41,7.5) (44,7.3) (47,7.2) (50,7) (53,7.1) (56,7) (58,6.5) (59,7.5) (60,9) (61,11) (62,14.5) (63,18) (64,21) (65,21.3) (66,21.5) (67,20.8) (68,17.8) (69,18.5) (70,20.5) (71,21) (72,21.5) (74,22.5) (76,24) (78,25.5) (79,26) (80,27) (81,26.5) (82,26.5) (83,25.8) (84,27) (85,28.5) (86,30) (87,32.5) (88,33.5) (89,31) (90,34.5) (91,33) (92,29) (93,24) (94,18) (95,12) (96,7) (97,3.5) (98,1) (99,0)};
\addplot[C7] coordinates {(0,0) (3,0.5) (5,2.5) (7,9) (8,15) (9,20) (10,24) (11,26.5) (12,27) (13,26.5) (14,25.2) (15,24.8) (16,24.3) (17,24.5) (18,23.6) (19,22.8) (20,23) (21,22.5) (22,23.3) (23,24) (24,22.5) (25,20.5) (26,21) (27,20.7) (28,21.3) (29,22.4) (30,21.2) (31,20.5) (32,21.5) (33,24.8) (34,21) (35,17.5) (36,18.3) (37,16.5) (38,15) (39,13) (40,11) (41,9.2) (42,8.2) (44,8) (46,7.9) (48,7.8) (50,8.3) (52,8.5) (54,8.3) (56,8.2) (58,8) (60,7.8) (62,8) (64,8.2) (66,8.5) (68,8.3) (70,9) (72,11) (74,13) (76,17) (77,20) (78,19.5) (79,15) (80,18) (81,24) (82,29.5) (83,30) (84,29.5) (85,29) (86,28.8) (87,28.5) (88,27) (89,25) (90,21) (91,17) (92,13) (93,9) (94,6) (96,2.5) (98,0.5) (99,0)};
\addplot[C7] coordinates {(0,0) (2,0.3) (4,2) (6,8) (7,15) (8,25) (9,34) (10,40) (11,43.5) (12,45.5) (13,46.2) (14,46) (15,45.6) (17,44.5) (19,43) (21,41.5) (23,40.2) (25,39) (27,38.6) (29,38.4) (31,38) (33,37.5) (35,37.7) (37,37.5) (39,38) (41,38.3) (43,37.5) (45,37) (46,36.2) (47,36.3) (49,37) (51,37.3) (53,38.6) (54,39.1) (55,38.8) (56,40) (57,39.3) (58,35.5) (59,34.5) (60,38) (61,33) (62,28) (63,25) (64,22.5) (65,19) (66,16.5) (67,15.5) (68,13.5) (69,16) (70,14.5) (71,13.5) (72,15) (73,16) (74,18) (75,20) (76,21) (77,20) (78,35.5) (79,15) (80,25) (81,43.5) (82,38.5) (83,44) (84,47) (85,43) (86,42.5) (87,43.3) (88,41) (89,38) (90,34) (91,29) (92,22) (93,16) (94,10) (95,6) (96,3) (97,1.2) (98,0.4) (99,0)};
\end{axis}

\node[font=\fontsize{12}{14}\selectfont] at (120.5pt,212.5pt) {(a) Input of correct classification};
\node[font=\fontsize{12}{14}\selectfont] at (394.5pt,212.5pt) {(b) Relevance of correct classification};
\node[font=\fontsize{12}{14}\selectfont] at (120.5pt,7.5pt) {(c) Input of incorrect classification};
\node[font=\fontsize{12}{14}\selectfont] at (394.5pt,7.5pt) {(d) Relevance of incorrect classification};
\end{tikzpicture}
\end{document}
